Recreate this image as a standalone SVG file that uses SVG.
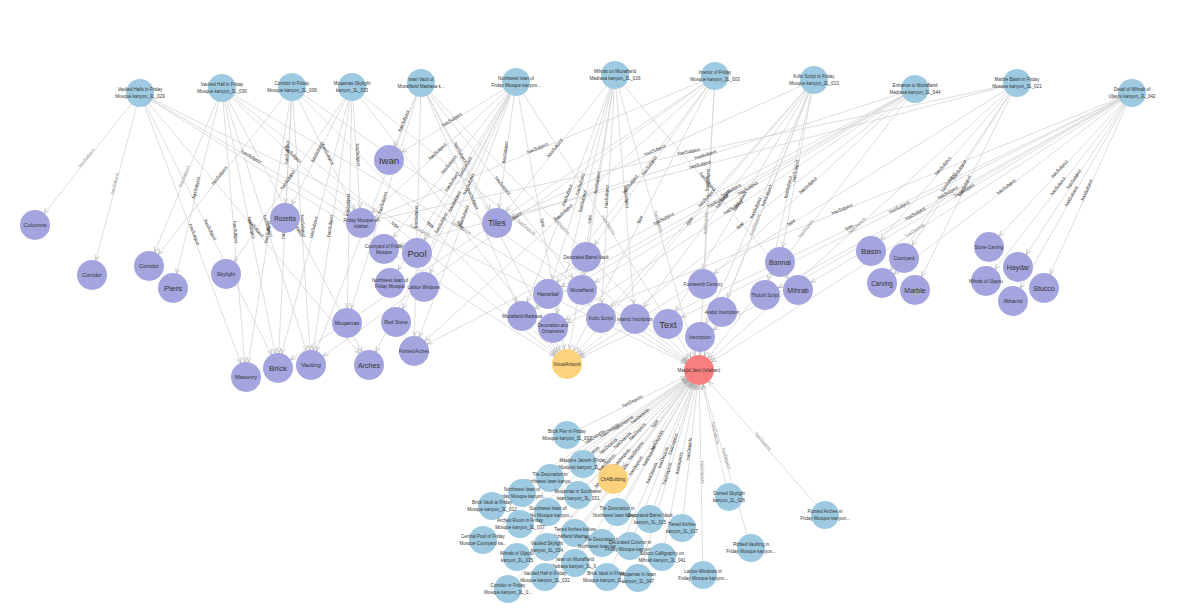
<svg xmlns="http://www.w3.org/2000/svg" width="1199" height="610" viewBox="0 0 1199 610">
<style>
.e{fill:none;stroke:#d6d6d6;stroke-width:0.8}
.me{marker-end:url(#arr)}
.ms{marker-start:url(#arr)}
.l{font-family:'Liberation Sans',Arial,sans-serif;font-size:4.5px;fill:#1e1e1e;text-anchor:middle}
.ld{fill:#8a8a8a}
.bl{fill:#9ecae1}
.pu{fill:#a4a4df}
.or{fill:#fdd27c}
.rd{fill:#f97f7f}
.t{font-family:'Liberation Sans',Arial,sans-serif;fill:#333;text-anchor:middle;dominant-baseline:central}
.s{font-size:4.5px}
</style>
<defs>
<marker id="arr" markerUnits="userSpaceOnUse" markerWidth="6" markerHeight="5" refX="20" refY="2.2" orient="auto-start-reverse" overflow="visible"><path d="M0,0 L5,2.2 L0,4.4" fill="none" stroke="#a8a8a8" stroke-width="0.6"/></marker>
</defs>
<rect width="1199" height="610" fill="#ffffff"/>
<g id="connectors">
<path id="e1" class="e ms" d="M35,225 L140,93"/>
<path id="e2" class="e ms" d="M92,275 L140,93"/>
<path id="e3" class="e me" d="M140,93 L278,368"/>
<path id="e4" class="e me" d="M140,93 L246,377"/>
<path id="e5" class="e me" d="M140,93 L369,365"/>
<path id="e6" class="e me" d="M140,93 L361,223"/>
<path id="e7" class="e me" d="M140,93 L567,364"/>
<path id="e8" class="e me" d="M140,93 L699,370"/>
<path id="e9" class="e ms" d="M149,266 L222,88"/>
<path id="e10" class="e ms" d="M173,288 L222,88"/>
<path id="e11" class="e me" d="M222,88 L278,368"/>
<path id="e12" class="e me" d="M222,88 L246,377"/>
<path id="e13" class="e me" d="M222,88 L311,365"/>
<path id="e14" class="e me" d="M222,88 L369,365"/>
<path id="e15" class="e me" d="M222,88 L361,223"/>
<path id="e16" class="e me" d="M222,88 L567,364"/>
<path id="e17" class="e me" d="M222,88 L699,370"/>
<path id="e18" class="e ms" d="M149,266 L292,87"/>
<path id="e19" class="e ms" d="M285,218 L292,87"/>
<path id="e20" class="e ms" d="M278,368 L292,87"/>
<path id="e21" class="e ms" d="M246,377 L292,87"/>
<path id="e22" class="e me" d="M292,87 L311,365"/>
<path id="e23" class="e me" d="M292,87 L361,223"/>
<path id="e24" class="e me" d="M292,87 L567,364"/>
<path id="e25" class="e me" d="M292,87 L699,370"/>
<path id="e26" class="e ms" d="M226,274 L352,87"/>
<path id="e27" class="e ms" d="M347,323 L352,87"/>
<path id="e28" class="e ms" d="M285,218 L352,87"/>
<path id="e29" class="e ms" d="M278,368 L352,87"/>
<path id="e30" class="e ms" d="M311,365 L352,87"/>
<path id="e31" class="e me" d="M352,87 L361,223"/>
<path id="e32" class="e me" d="M352,87 L567,364"/>
<path id="e33" class="e me" d="M352,87 L699,370"/>
<path id="e34" class="e ms" d="M389,160 L421,83"/>
<path id="e35" class="e me" d="M421,83 L522,316"/>
<path id="e36" class="e me" d="M421,83 L497,223"/>
<path id="e37" class="e ms" d="M347,323 L421,83"/>
<path id="e38" class="e me" d="M421,83 L582,290"/>
<path id="e39" class="e ms" d="M311,365 L421,83"/>
<path id="e40" class="e ms" d="M414,351 L421,83"/>
<path id="e41" class="e me" d="M421,83 L567,364"/>
<path id="e42" class="e me" d="M421,83 L699,370"/>
<path id="e43" class="e ms" d="M390,283 L516,82"/>
<path id="e44" class="e ms" d="M389,160 L516,82"/>
<path id="e45" class="e ms" d="M497,223 L516,82"/>
<path id="e46" class="e ms" d="M384,249 L516,82"/>
<path id="e47" class="e ms" d="M417,253 L516,82"/>
<path id="e48" class="e ms" d="M424,287 L516,82"/>
<path id="e49" class="e ms" d="M396,322 L516,82"/>
<path id="e50" class="e ms" d="M414,351 L516,82"/>
<path id="e51" class="e ms" d="M369,365 L516,82"/>
<path id="e52" class="e ms" d="M361,223 L516,82"/>
<path id="e53" class="e me" d="M516,82 L567,364"/>
<path id="e54" class="e me" d="M516,82 L699,370"/>
<path id="e55" class="e ms" d="M522,316 L615,75"/>
<path id="e56" class="e ms" d="M582,290 L615,75"/>
<path id="e57" class="e ms" d="M497,223 L615,75"/>
<path id="e58" class="e ms" d="M601,318 L615,75"/>
<path id="e59" class="e ms" d="M548,294 L615,75"/>
<path id="e60" class="e ms" d="M553,328 L615,75"/>
<path id="e61" class="e me" d="M615,75 L635,319"/>
<path id="e62" class="e me" d="M615,75 L798,290"/>
<path id="e63" class="e ms" d="M567,364 L615,75"/>
<path id="e64" class="e me" d="M615,75 L699,370"/>
<path id="e65" class="e ms" d="M586,257 L715,76"/>
<path id="e66" class="e ms" d="M703,284 L715,76"/>
<path id="e67" class="e ms" d="M278,368 L715,76"/>
<path id="e68" class="e ms" d="M414,351 L715,76"/>
<path id="e69" class="e ms" d="M548,294 L715,76"/>
<path id="e70" class="e ms" d="M311,365 L715,76"/>
<path id="e71" class="e ms" d="M361,223 L715,76"/>
<path id="e72" class="e ms" d="M567,364 L715,76"/>
<path id="e73" class="e ms" d="M699,370 L715,76"/>
<path id="e74" class="e ms" d="M601,318 L814,80"/>
<path id="e75" class="e ms" d="M668,324 L814,80"/>
<path id="e76" class="e ms" d="M700,337 L814,80"/>
<path id="e77" class="e ms" d="M722,312 L814,80"/>
<path id="e78" class="e ms" d="M635,319 L814,80"/>
<path id="e79" class="e ms" d="M780,262 L814,80"/>
<path id="e80" class="e ms" d="M497,223 L814,80"/>
<path id="e81" class="e ms" d="M765,295 L814,80"/>
<path id="e82" class="e ms" d="M567,364 L814,80"/>
<path id="e83" class="e ms" d="M699,370 L814,80"/>
<path id="e84" class="e ms" d="M522,316 L915,89"/>
<path id="e85" class="e ms" d="M582,290 L915,89"/>
<path id="e86" class="e ms" d="M497,223 L915,89"/>
<path id="e87" class="e ms" d="M553,328 L915,89"/>
<path id="e88" class="e ms" d="M414,351 L915,89"/>
<path id="e89" class="e ms" d="M703,284 L915,89"/>
<path id="e90" class="e ms" d="M548,294 L915,89"/>
<path id="e91" class="e ms" d="M567,364 L915,89"/>
<path id="e92" class="e ms" d="M699,370 L915,89"/>
<path id="e93" class="e ms" d="M871,251 L1017,83"/>
<path id="e94" class="e ms" d="M915,290 L1017,83"/>
<path id="e95" class="e ms" d="M882,283 L1017,83"/>
<path id="e96" class="e ms" d="M904,258 L1017,83"/>
<path id="e97" class="e ms" d="M361,223 L1017,83"/>
<path id="e98" class="e ms" d="M384,249 L1017,83"/>
<path id="e99" class="e ms" d="M567,364 L1017,83"/>
<path id="e100" class="e ms" d="M699,370 L1017,83"/>
<path id="e101" class="e ms" d="M989,247 L1132,93"/>
<path id="e102" class="e ms" d="M1018,267 L1132,93"/>
<path id="e103" class="e ms" d="M986,281 L1132,93"/>
<path id="e104" class="e ms" d="M1013,301 L1132,93"/>
<path id="e105" class="e ms" d="M1044,288 L1132,93"/>
<path id="e106" class="e ms" d="M798,290 L1132,93"/>
<path id="e107" class="e ms" d="M668,324 L1132,93"/>
<path id="e108" class="e ms" d="M700,337 L1132,93"/>
<path id="e109" class="e ms" d="M765,295 L1132,93"/>
<path id="e110" class="e ms" d="M882,283 L1132,93"/>
<path id="e111" class="e ms" d="M567,364 L1132,93"/>
<path id="e112" class="e ms" d="M699,370 L1132,93"/>
<path id="e113" class="e ms" d="M553,328 L1132,93"/>
<path id="f1" class="e me" d="M567,435 L699,370"/>
<path id="f2" class="e me" d="M583,464 L699,370"/>
<path id="f3" class="e me" d="M550,478 L699,370"/>
<path id="f4" class="e me" d="M522,493 L699,370"/>
<path id="f5" class="e me" d="M578,495 L699,370"/>
<path id="f6" class="e me" d="M492,506 L699,370"/>
<path id="f7" class="e me" d="M548,512 L699,370"/>
<path id="f8" class="e me" d="M617,512 L699,370"/>
<path id="f9" class="e me" d="M520,524 L699,370"/>
<path id="f10" class="e me" d="M483,540 L699,370"/>
<path id="f11" class="e me" d="M575,533 L699,370"/>
<path id="f12" class="e me" d="M547,547 L699,370"/>
<path id="f13" class="e me" d="M602,543 L699,370"/>
<path id="f14" class="e me" d="M630,546 L699,370"/>
<path id="f15" class="e me" d="M650,519 L699,370"/>
<path id="f16" class="e me" d="M682,528 L699,370"/>
<path id="f17" class="e me" d="M517,557 L699,370"/>
<path id="f18" class="e me" d="M575,563 L699,370"/>
<path id="f19" class="e me" d="M662,557 L699,370"/>
<path id="f20" class="e me" d="M545,577 L699,370"/>
<path id="f21" class="e me" d="M607,577 L699,370"/>
<path id="f22" class="e me" d="M638,578 L699,370"/>
<path id="f23" class="e me" d="M508,589 L699,370"/>
<path id="f24" class="e ms" d="M699,370 L703,575"/>
<path id="f25" class="e ms" d="M699,370 L729,497"/>
<path id="f26" class="e ms" d="M699,370 L751,548"/>
<path id="f27" class="e ms" d="M699,370 L825,515"/>
<path id="f28" class="e ms" d="M613,479 L699,370"/>
<g id="edge-labels">
<text class="l ld"><textPath href="#e1" startOffset="50%">hasSubject</textPath></text>
<text class="l ld"><textPath href="#e2" startOffset="50%">hasSubject</textPath></text>
<text class="l"><textPath href="#e3" startOffset="50%">hasSubject</textPath></text>
<text class="l"><textPath href="#e4" startOffset="50%">hasSubject</textPath></text>
<text class="l"><textPath href="#e5" startOffset="50%">hasSubject</textPath></text>
<text class="l"><textPath href="#e6" startOffset="50%">hasSubject</textPath></text>
<text class="l"><textPath href="#e7" startOffset="50%">type</textPath></text>
<text class="l ld"><textPath href="#e8" startOffset="50%">hasDepicts</textPath></text>
<text class="l ld"><textPath href="#e9" startOffset="50%">hasSubject</textPath></text>
<text class="l"><textPath href="#e10" startOffset="50%">hasSubject</textPath></text>
<text class="l"><textPath href="#e11" startOffset="50%">hasSubject</textPath></text>
<text class="l"><textPath href="#e12" startOffset="50%">hasSubject</textPath></text>
<text class="l"><textPath href="#e13" startOffset="50%">hasSubject</textPath></text>
<text class="l"><textPath href="#e14" startOffset="50%">hasSubject</textPath></text>
<text class="l"><textPath href="#e15" startOffset="50%">hasSubject</textPath></text>
<text class="l"><textPath href="#e16" startOffset="50%">type</textPath></text>
<text class="l ld"><textPath href="#e17" startOffset="50%">hasDepicts</textPath></text>
<text class="l"><textPath href="#e18" startOffset="50%">hasSubject</textPath></text>
<text class="l"><textPath href="#e19" startOffset="50%">hasSubject</textPath></text>
<text class="l"><textPath href="#e20" startOffset="50%">hasSubject</textPath></text>
<text class="l"><textPath href="#e21" startOffset="50%">hasSubject</textPath></text>
<text class="l"><textPath href="#e22" startOffset="50%">hasSubject</textPath></text>
<text class="l"><textPath href="#e23" startOffset="50%">hasSubject</textPath></text>
<text class="l"><textPath href="#e24" startOffset="50%">type</textPath></text>
<text class="l ld"><textPath href="#e25" startOffset="50%">hasDepicts</textPath></text>
<text class="l"><textPath href="#e26" startOffset="50%">hasSubject</textPath></text>
<text class="l"><textPath href="#e27" startOffset="50%">hasSubject</textPath></text>
<text class="l"><textPath href="#e28" startOffset="50%">hasSubject</textPath></text>
<text class="l"><textPath href="#e29" startOffset="50%">hasSubject</textPath></text>
<text class="l"><textPath href="#e30" startOffset="50%">hasSubject</textPath></text>
<text class="l"><textPath href="#e31" startOffset="50%">hasSubject</textPath></text>
<text class="l"><textPath href="#e32" startOffset="50%">type</textPath></text>
<text class="l ld"><textPath href="#e33" startOffset="50%">hasDepicts</textPath></text>
<text class="l"><textPath href="#e34" startOffset="50%">hasSubject</textPath></text>
<text class="l"><textPath href="#e35" startOffset="50%">hasSubject</textPath></text>
<text class="l"><textPath href="#e36" startOffset="50%">hasSubject</textPath></text>
<text class="l"><textPath href="#e37" startOffset="50%">hasSubject</textPath></text>
<text class="l"><textPath href="#e38" startOffset="50%">hasSubject</textPath></text>
<text class="l"><textPath href="#e39" startOffset="50%">hasSubject</textPath></text>
<text class="l"><textPath href="#e40" startOffset="50%">hasSubject</textPath></text>
<text class="l"><textPath href="#e41" startOffset="50%">type</textPath></text>
<text class="l ld"><textPath href="#e42" startOffset="50%">hasDepicts</textPath></text>
<text class="l"><textPath href="#e43" startOffset="50%">hasSubject</textPath></text>
<text class="l"><textPath href="#e44" startOffset="50%">hasSubject</textPath></text>
<text class="l"><textPath href="#e45" startOffset="50%">hasSubject</textPath></text>
<text class="l"><textPath href="#e46" startOffset="50%">hasSubject</textPath></text>
<text class="l"><textPath href="#e47" startOffset="50%">hasSubject</textPath></text>
<text class="l"><textPath href="#e48" startOffset="50%">hasSubject</textPath></text>
<text class="l"><textPath href="#e49" startOffset="50%">hasSubject</textPath></text>
<text class="l"><textPath href="#e50" startOffset="50%">hasSubject</textPath></text>
<text class="l"><textPath href="#e51" startOffset="50%">hasSubject</textPath></text>
<text class="l"><textPath href="#e52" startOffset="50%">hasSubject</textPath></text>
<text class="l"><textPath href="#e53" startOffset="50%">type</textPath></text>
<text class="l ld"><textPath href="#e54" startOffset="50%">hasDepicts</textPath></text>
<text class="l"><textPath href="#e55" startOffset="50%">hasSubject</textPath></text>
<text class="l"><textPath href="#e56" startOffset="50%">hasSubject</textPath></text>
<text class="l"><textPath href="#e57" startOffset="50%">hasSubject</textPath></text>
<text class="l"><textPath href="#e58" startOffset="50%">hasSubject</textPath></text>
<text class="l"><textPath href="#e59" startOffset="50%">hasSubject</textPath></text>
<text class="l"><textPath href="#e60" startOffset="50%">hasSubject</textPath></text>
<text class="l"><textPath href="#e61" startOffset="50%">hasSubject</textPath></text>
<text class="l"><textPath href="#e62" startOffset="50%">hasSubject</textPath></text>
<text class="l"><textPath href="#e63" startOffset="50%">type</textPath></text>
<text class="l ld"><textPath href="#e64" startOffset="50%">hasDepicts</textPath></text>
<text class="l"><textPath href="#e65" startOffset="50%">hasSubject</textPath></text>
<text class="l"><textPath href="#e66" startOffset="50%">hasSubject</textPath></text>
<text class="l"><textPath href="#e67" startOffset="50%">hasSubject</textPath></text>
<text class="l"><textPath href="#e68" startOffset="50%">hasSubject</textPath></text>
<text class="l"><textPath href="#e69" startOffset="50%">hasSubject</textPath></text>
<text class="l"><textPath href="#e70" startOffset="50%">hasSubject</textPath></text>
<text class="l"><textPath href="#e71" startOffset="50%">hasSubject</textPath></text>
<text class="l"><textPath href="#e72" startOffset="50%">type</textPath></text>
<text class="l ld"><textPath href="#e73" startOffset="50%">hasDepicts</textPath></text>
<text class="l"><textPath href="#e74" startOffset="50%">hasSubject</textPath></text>
<text class="l"><textPath href="#e75" startOffset="50%">hasSubject</textPath></text>
<text class="l"><textPath href="#e76" startOffset="50%">hasSubject</textPath></text>
<text class="l"><textPath href="#e77" startOffset="50%">hasSubject</textPath></text>
<text class="l"><textPath href="#e78" startOffset="50%">hasSubject</textPath></text>
<text class="l"><textPath href="#e79" startOffset="50%">hasSubject</textPath></text>
<text class="l"><textPath href="#e80" startOffset="50%">hasSubject</textPath></text>
<text class="l"><textPath href="#e81" startOffset="50%">hasSubject</textPath></text>
<text class="l"><textPath href="#e82" startOffset="50%">type</textPath></text>
<text class="l ld"><textPath href="#e83" startOffset="50%">hasDepicts</textPath></text>
<text class="l"><textPath href="#e84" startOffset="50%">hasSubject</textPath></text>
<text class="l"><textPath href="#e85" startOffset="50%">hasSubject</textPath></text>
<text class="l"><textPath href="#e86" startOffset="50%">hasSubject</textPath></text>
<text class="l"><textPath href="#e87" startOffset="50%">hasSubject</textPath></text>
<text class="l"><textPath href="#e88" startOffset="50%">hasSubject</textPath></text>
<text class="l"><textPath href="#e89" startOffset="50%">hasSubject</textPath></text>
<text class="l"><textPath href="#e90" startOffset="50%">hasSubject</textPath></text>
<text class="l"><textPath href="#e91" startOffset="50%">type</textPath></text>
<text class="l ld"><textPath href="#e92" startOffset="50%">hasDepicts</textPath></text>
<text class="l"><textPath href="#e93" startOffset="50%">hasSubject</textPath></text>
<text class="l"><textPath href="#e94" startOffset="50%">hasSubject</textPath></text>
<text class="l"><textPath href="#e95" startOffset="50%">hasSubject</textPath></text>
<text class="l"><textPath href="#e96" startOffset="50%">hasSubject</textPath></text>
<text class="l"><textPath href="#e97" startOffset="50%">hasSubject</textPath></text>
<text class="l"><textPath href="#e98" startOffset="50%">hasSubject</textPath></text>
<text class="l"><textPath href="#e99" startOffset="50%">type</textPath></text>
<text class="l ld"><textPath href="#e100" startOffset="50%">hasDepicts</textPath></text>
<text class="l"><textPath href="#e101" startOffset="50%">hasSubject</textPath></text>
<text class="l"><textPath href="#e102" startOffset="50%">hasSubject</textPath></text>
<text class="l"><textPath href="#e103" startOffset="50%">hasSubject</textPath></text>
<text class="l"><textPath href="#e104" startOffset="50%">hasSubject</textPath></text>
<text class="l"><textPath href="#e105" startOffset="50%">hasSubject</textPath></text>
<text class="l"><textPath href="#e106" startOffset="50%">hasSubject</textPath></text>
<text class="l"><textPath href="#e107" startOffset="50%">hasSubject</textPath></text>
<text class="l"><textPath href="#e108" startOffset="50%">hasSubject</textPath></text>
<text class="l"><textPath href="#e109" startOffset="50%">hasSubject</textPath></text>
<text class="l"><textPath href="#e110" startOffset="50%">hasSubject</textPath></text>
<text class="l"><textPath href="#e111" startOffset="50%">type</textPath></text>
<text class="l ld"><textPath href="#e112" startOffset="50%">hasDepicts</textPath></text>
<text class="l"><textPath href="#e113" startOffset="50%">hasSubject</textPath></text>
<text class="l"><textPath href="#f1" startOffset="50%">hasDepicts</textPath></text>
<text class="l"><textPath href="#f2" startOffset="50%">hasDepicts</textPath></text>
<text class="l"><textPath href="#f3" startOffset="50%">hasDepicts</textPath></text>
<text class="l"><textPath href="#f4" startOffset="50%">hasDepicts</textPath></text>
<text class="l"><textPath href="#f5" startOffset="50%">hasDepicts</textPath></text>
<text class="l"><textPath href="#f6" startOffset="50%">hasDepicts</textPath></text>
<text class="l"><textPath href="#f7" startOffset="50%">hasDepicts</textPath></text>
<text class="l"><textPath href="#f8" startOffset="50%">hasDepicts</textPath></text>
<text class="l"><textPath href="#f9" startOffset="50%">hasDepicts</textPath></text>
<text class="l"><textPath href="#f10" startOffset="50%">hasDepicts</textPath></text>
<text class="l"><textPath href="#f11" startOffset="50%">hasDepicts</textPath></text>
<text class="l"><textPath href="#f12" startOffset="50%">hasDepicts</textPath></text>
<text class="l"><textPath href="#f13" startOffset="50%">hasDepicts</textPath></text>
<text class="l"><textPath href="#f14" startOffset="50%">hasDepicts</textPath></text>
<text class="l"><textPath href="#f15" startOffset="50%">hasDepicts</textPath></text>
<text class="l"><textPath href="#f16" startOffset="50%">hasDepicts</textPath></text>
<text class="l"><textPath href="#f17" startOffset="50%">hasDepicts</textPath></text>
<text class="l"><textPath href="#f18" startOffset="50%">hasDepicts</textPath></text>
<text class="l"><textPath href="#f19" startOffset="50%">hasDepicts</textPath></text>
<text class="l"><textPath href="#f20" startOffset="50%">hasDepicts</textPath></text>
<text class="l"><textPath href="#f21" startOffset="50%">hasDepicts</textPath></text>
<text class="l"><textPath href="#f22" startOffset="50%">hasDepicts</textPath></text>
<text class="l"><textPath href="#f23" startOffset="50%">hasDepicts</textPath></text>
<text class="l ld"><textPath href="#f24" startOffset="50%">hasDepicts</textPath></text>
<text class="l ld"><textPath href="#f25" startOffset="50%">hasDepicts</textPath></text>
<text class="l ld"><textPath href="#f26" startOffset="50%">hasDepicts</textPath></text>
<text class="l ld"><textPath href="#f27" startOffset="50%">hasDepicts</textPath></text>
<text class="l"><textPath href="#f28" startOffset="50%">type</textPath></text>
</g>
</g>
<g id="nodes">
<g id="n-a1"><circle class="bl" cx="140" cy="93" r="14"/><text class="t s" x="140" y="89.2">Vaulted Halls in Friday</text><text class="t s" x="140" y="96.8">Mosque kanyon_3L_029</text></g>
<g id="n-a2"><circle class="bl" cx="222" cy="88" r="14"/><text class="t s" x="222" y="84.2">Vaulted Hall in Friday</text><text class="t s" x="222" y="91.8">Mosque kanyon_3L_030</text></g>
<g id="n-a3"><circle class="bl" cx="292" cy="87" r="14"/><text class="t s" x="292" y="83.2">Corridor in Friday</text><text class="t s" x="292" y="90.8">Mosque kanyon_3L_008</text></g>
<g id="n-a4"><circle class="bl" cx="352" cy="87" r="14"/><text class="t s" x="352" y="83.2">Muqarnas Skylight</text><text class="t s" x="352" y="90.8">kanyon_3L_033</text></g>
<g id="n-a5"><circle class="bl" cx="421" cy="83" r="14"/><text class="t s" x="421" y="79.2">Iwan Vault of</text><text class="t s" x="421" y="86.8">Muzaffarid Madrasa k...</text></g>
<g id="n-a6"><circle class="bl" cx="516" cy="82" r="14"/><text class="t s" x="516" y="78.2">Northwest Iwan of</text><text class="t s" x="516" y="85.8">Friday Mosque kanyon...</text></g>
<g id="n-a7"><circle class="bl" cx="615" cy="75" r="14"/><text class="t s" x="615" y="71.2">Mihrab on Muzaffarid</text><text class="t s" x="615" y="78.8">Madrasa kanyon_3L_016</text></g>
<g id="n-a8"><circle class="bl" cx="715" cy="76" r="14"/><text class="t s" x="715" y="72.2">Interior of Friday</text><text class="t s" x="715" y="79.8">Mosque kanyon_3L_003</text></g>
<g id="n-a9"><circle class="bl" cx="814" cy="80" r="14"/><text class="t s" x="814" y="76.2">Kufic Script in Friday</text><text class="t s" x="814" y="83.8">Mosque kanyon_3L_013</text></g>
<g id="n-a10"><circle class="bl" cx="915" cy="89" r="14"/><text class="t s" x="915" y="85.2">Entrance to Muzaffarid</text><text class="t s" x="915" y="92.8">Madrasa kanyon_3L_044</text></g>
<g id="n-a11"><circle class="bl" cx="1017" cy="83" r="14"/><text class="t s" x="1017" y="79.2">Marble Basin in Friday</text><text class="t s" x="1017" y="86.8">Mosque kanyon_3L_021</text></g>
<g id="n-a12"><circle class="bl" cx="1132" cy="93" r="14"/><text class="t s" x="1132" y="89.2">Detail of Mihrab of</text><text class="t s" x="1132" y="96.8">Uljaytu kanyon_3L_042</text></g>

<g id="n-columns"><circle class="pu" cx="35" cy="225" r="15"/><text class="t" x="35" y="225" font-size="5.8">Columns</text></g>
<g id="n-corridor1"><circle class="pu" cx="92" cy="275" r="15"/><text class="t" x="92" y="275" font-size="5.5">Corridor</text></g>
<g id="n-corridor2"><circle class="pu" cx="149" cy="266" r="15"/><text class="t" x="149" y="266" font-size="5.5">Corridor</text></g>
<g id="n-piers"><circle class="pu" cx="173" cy="288" r="15"/><text class="t" x="173" y="288" font-size="8">Piers</text></g>
<g id="n-skylight"><circle class="pu" cx="226" cy="274" r="15"/><text class="t" x="226" y="274" font-size="5.3">Skylight</text></g>
<g id="n-rozetta"><circle class="pu" cx="285" cy="218" r="15"/><text class="t" x="285" y="218" font-size="6.3">Rozetta</text></g>
<g id="n-masonry"><circle class="pu" cx="246" cy="377" r="15"/><text class="t" x="246" y="377" font-size="5.8">Masonry</text></g>
<g id="n-brick"><circle class="pu" cx="278" cy="368" r="15"/><text class="t" x="278" y="368" font-size="8">Brick</text></g>
<g id="n-vaulting"><circle class="pu" cx="311" cy="365" r="15"/><text class="t" x="311" y="365" font-size="5.5">Vaulting</text></g>
<g id="n-iwan"><circle class="pu" cx="389" cy="160" r="15"/><text class="t" x="389" y="160" font-size="9.5">Iwan</text></g>
<g id="n-fmi"><circle class="pu" cx="361" cy="223" r="15"/><text class="t s" x="361" y="220.5">Friday Mosque of</text><text class="t s" x="361" y="226">Isfahan</text></g>
<g id="n-cfm"><circle class="pu" cx="384" cy="249" r="15"/><text class="t s" x="384" y="246.5">Courtyard of Friday</text><text class="t s" x="384" y="252">Mosque</text></g>
<g id="n-pool"><circle class="pu" cx="417" cy="253" r="15"/><text class="t" x="417" y="253" font-size="9.5">Pool</text></g>
<g id="n-nwi"><circle class="pu" cx="390" cy="283" r="15"/><text class="t s" x="390" y="280.5">Northwest Iwan of</text><text class="t s" x="390" y="286">Friday Mosque</text></g>
<g id="n-lattice"><circle class="pu" cx="424" cy="287" r="15"/><text class="t s" x="424" y="287">Lattice Windows</text></g>
<g id="n-tiles"><circle class="pu" cx="497" cy="223" r="15"/><text class="t" x="497" y="223" font-size="8.5">Tiles</text></g>
<g id="n-muqarnas"><circle class="pu" cx="347" cy="323" r="15"/><text class="t" x="347" y="323" font-size="5.5">Muqarnas</text></g>
<g id="n-redstone"><circle class="pu" cx="396" cy="322" r="15"/><text class="t" x="396" y="322" font-size="5">Red Stone</text></g>
<g id="n-pointed"><circle class="pu" cx="414" cy="351" r="15"/><text class="t s" x="414" y="351">Pointed Arches</text></g>
<g id="n-arches"><circle class="pu" cx="369" cy="365" r="15"/><text class="t" x="369" y="365" font-size="7">Arches</text></g>
<g id="n-dbv"><circle class="pu" cx="586" cy="257" r="15"/><text class="t s" x="586" y="257">Decorated Barrel Vault</text></g>
<g id="n-hazarbaf"><circle class="pu" cx="548" cy="294" r="15"/><text class="t" x="548" y="294" font-size="5.3">Hazarbaf</text></g>
<g id="n-muzaffarid"><circle class="pu" cx="582" cy="290" r="15"/><text class="t" x="582" y="290" font-size="5">Muzaffarid</text></g>
<g id="n-mm"><circle class="pu" cx="522" cy="316" r="15"/><text class="t s" x="522" y="316">Muzaffarid Madrasa</text></g>
<g id="n-do"><circle class="pu" cx="553" cy="328" r="15"/><text class="t s" x="553" y="325.5">Decoration and</text><text class="t s" x="553" y="331">Ornaments</text></g>
<g id="n-kufic"><circle class="pu" cx="601" cy="318" r="15"/><text class="t" x="601" y="318" font-size="4.8">Kufic Script</text></g>
<g id="n-islamic"><circle class="pu" cx="635" cy="319" r="15"/><text class="t s" x="635" y="319">Islamic Inscription</text></g>
<g id="n-text"><circle class="pu" cx="668" cy="324" r="15"/><text class="t" x="668" y="324" font-size="9.5">Text</text></g>
<g id="n-inscription"><circle class="pu" cx="700" cy="337" r="15"/><text class="t" x="700" y="337" font-size="4.8">Inscription</text></g>
<g id="n-fourteenth"><circle class="pu" cx="703" cy="284" r="15"/><text class="t s" x="703" y="284">Fourteenth Century</text></g>
<g id="n-arabic"><circle class="pu" cx="722" cy="312" r="15"/><text class="t s" x="722" y="312">Arabic Inscription</text></g>
<g id="n-bannai"><circle class="pu" cx="780" cy="262" r="15"/><text class="t" x="780" y="262" font-size="7">Bannai</text></g>
<g id="n-thuluth"><circle class="pu" cx="765" cy="295" r="15"/><text class="t s" x="765" y="295">Thuluth Script</text></g>
<g id="n-mihrab"><circle class="pu" cx="798" cy="290" r="15"/><text class="t" x="798" y="290" font-size="7">Mihrab</text></g>
<g id="n-basin"><circle class="pu" cx="871" cy="251" r="15"/><text class="t" x="871" y="251" font-size="8">Basin</text></g>
<g id="n-courtyard"><circle class="pu" cx="904" cy="258" r="15"/><text class="t" x="904" y="258" font-size="4.8">Courtyard</text></g>
<g id="n-carving"><circle class="pu" cx="882" cy="283" r="15"/><text class="t" x="882" y="283" font-size="6.3">Carving</text></g>
<g id="n-marble"><circle class="pu" cx="915" cy="290" r="15"/><text class="t" x="915" y="290" font-size="7">Marble</text></g>
<g id="n-stonecarving"><circle class="pu" cx="989" cy="247" r="15"/><text class="t s" x="989" y="247">Stone Carving</text></g>
<g id="n-haydar"><circle class="pu" cx="1018" cy="267" r="15"/><text class="t" x="1018" y="267" font-size="7">Haydar</text></g>
<g id="n-mou"><circle class="pu" cx="986" cy="281" r="15"/><text class="t s" x="986" y="281">Mihrab of Uljaytu</text></g>
<g id="n-ilkhanid"><circle class="pu" cx="1013" cy="301" r="15"/><text class="t" x="1013" y="301" font-size="5.5">Ilkhanid</text></g>
<g id="n-stucco"><circle class="pu" cx="1044" cy="288" r="15"/><text class="t" x="1044" y="288" font-size="7">Stucco</text></g>

<g id="n-visualartwork"><circle class="or" cx="567" cy="364" r="15"/><text class="t s" x="567" y="364">VisualArtwork</text></g>
<g id="n-masjid"><circle class="rd" cx="699" cy="370" r="15"/><text class="t s" x="699" y="370">Masjid Jami (Isfahan)</text></g>

<g id="n-b1"><circle class="bl" cx="567" cy="435" r="14"/><text class="t s" x="567" y="431.2">Brick Pier in Friday</text><text class="t s" x="567" y="438.8">Mosque kanyon_3L_007</text></g>
<g id="n-b2"><circle class="bl" cx="583" cy="464" r="14"/><text class="t s" x="583" y="460.2">Masjid-e Jameh (Friday</text><text class="t s" x="583" y="467.8">Mosque) kanyon_3L_0...</text></g>
<g id="n-b3"><circle class="bl" cx="550" cy="478" r="14"/><text class="t s" x="550" y="474.2">Tile Decoration in</text><text class="t s" x="550" y="481.8">Northwest Iwan kanyo...</text></g>
<g id="n-b4"><circle class="bl" cx="522" cy="493" r="14"/><text class="t s" x="522" y="489.2">Northwest Iwan of</text><text class="t s" x="522" y="496.8">Friday Mosque kanyon...</text></g>
<g id="n-b5"><circle class="bl" cx="578" cy="495" r="14"/><text class="t s" x="578" y="491.2">Muqarnas in Southwest</text><text class="t s" x="578" y="498.8">Iwan kanyon_3L_031</text></g>
<g id="n-b6"><circle class="bl" cx="492" cy="506" r="14"/><text class="t s" x="492" y="502.2">Brick Vault at Friday</text><text class="t s" x="492" y="509.8">Mosque kanyon_3L_012</text></g>
<g id="n-b7"><circle class="bl" cx="548" cy="512" r="14"/><text class="t s" x="548" y="508.2">Southwest Iwan of</text><text class="t s" x="548" y="515.8">Friday Mosque kanyon...</text></g>
<g id="n-b8"><circle class="bl" cx="617" cy="512" r="14"/><text class="t s" x="617" y="508.2">Tile Decoration in</text><text class="t s" x="617" y="515.8">Northwest Iwan kanyo...</text></g>
<g id="n-b9"><circle class="bl" cx="520" cy="524" r="14"/><text class="t s" x="520" y="520.2">Arched Room in Friday</text><text class="t s" x="520" y="527.8">Mosque kanyon_3L_037</text></g>
<g id="n-b10"><circle class="bl" cx="483" cy="540" r="14"/><text class="t s" x="483" y="536.2">Central Pool of Friday</text><text class="t s" x="483" y="543.8">Mosque Courtyard ka...</text></g>
<g id="n-b11"><circle class="bl" cx="575" cy="533" r="14"/><text class="t s" x="575" y="529.2">Tiered Arches before</text><text class="t s" x="575" y="536.8">Muzaffarid Madrasa k...</text></g>
<g id="n-b12"><circle class="bl" cx="547" cy="547" r="14"/><text class="t s" x="547" y="543.2">Vaulted Skylight</text><text class="t s" x="547" y="550.8">kanyon_3L_034</text></g>
<g id="n-b13"><circle class="bl" cx="602" cy="543" r="14"/><text class="t s" x="602" y="539.2">Tile Decoration in</text><text class="t s" x="602" y="546.8">Northwest Iwan kanyo...</text></g>
<g id="n-b14"><circle class="bl" cx="630" cy="546" r="14"/><text class="t s" x="630" y="542.2">Decorated Column in</text><text class="t s" x="630" y="549.8">Friday Mosque kanyon...</text></g>
<g id="n-b15"><circle class="bl" cx="650" cy="519" r="14"/><text class="t s" x="650" y="515.2">Decorated Barrel Vault</text><text class="t s" x="650" y="522.8">kanyon_3L_015</text></g>
<g id="n-b16"><circle class="bl" cx="682" cy="528" r="14"/><text class="t s" x="682" y="524.2">Tiered Arches</text><text class="t s" x="682" y="531.8">kanyon_3L_017</text></g>
<g id="n-b17"><circle class="bl" cx="517" cy="557" r="14"/><text class="t s" x="517" y="553.2">Mihrab of Uljaytu</text><text class="t s" x="517" y="560.8">kanyon_3L_035</text></g>
<g id="n-b18"><circle class="bl" cx="575" cy="563" r="14"/><text class="t s" x="575" y="559.2">Iwan on Muzaffarid</text><text class="t s" x="575" y="566.8">Madrasa kanyon_3L_0...</text></g>
<g id="n-b19"><circle class="bl" cx="662" cy="557" r="14"/><text class="t s" x="662" y="553.2">Stucco Calligraphy on</text><text class="t s" x="662" y="560.8">Mihrab kanyon_3L_041</text></g>
<g id="n-b20"><circle class="bl" cx="545" cy="577" r="14"/><text class="t s" x="545" y="573.2">Vaulted Hall in Friday</text><text class="t s" x="545" y="580.8">Mosque kanyon_3L_032</text></g>
<g id="n-b21"><circle class="bl" cx="607" cy="577" r="14"/><text class="t s" x="607" y="573.2">Brick Vault in Friday</text><text class="t s" x="607" y="580.8">Mosque kanyon_3L_0...</text></g>
<g id="n-b22"><circle class="bl" cx="638" cy="578" r="14"/><text class="t s" x="638" y="574.2">Muqarnas in Iwan</text><text class="t s" x="638" y="581.8">kanyon_3L_047</text></g>
<g id="n-b23"><circle class="bl" cx="508" cy="589" r="14"/><text class="t s" x="508" y="585.2">Corridor in Friday</text><text class="t s" x="508" y="592.8">Mosque kanyon_3L_0...</text></g>
<g id="n-b24"><circle class="bl" cx="703" cy="575" r="14"/><text class="t s" x="703" y="571.2">Lattice Windows in</text><text class="t s" x="703" y="578.8">Friday Mosque kanyon...</text></g>
<g id="n-b25"><circle class="bl" cx="729" cy="497" r="14"/><text class="t s" x="729" y="493.2">Domed Skylight</text><text class="t s" x="729" y="500.8">kanyon_3L_026</text></g>
<g id="n-b26"><circle class="bl" cx="751" cy="548" r="14"/><text class="t s" x="751" y="544.2">Ribbed Vaulting in</text><text class="t s" x="751" y="551.8">Friday Mosque kanyon...</text></g>
<g id="n-b27"><circle class="bl" cx="825" cy="515" r="14"/><text class="t s" x="825" y="511.2">Pointed Arches in</text><text class="t s" x="825" y="518.8">Friday Mosque kanyon...</text></g>
<g id="n-chabuilding"><circle class="or" cx="613" cy="479" r="15"/><text class="t s" x="613" y="479">ChABuilding</text></g>
</g>
</svg>
